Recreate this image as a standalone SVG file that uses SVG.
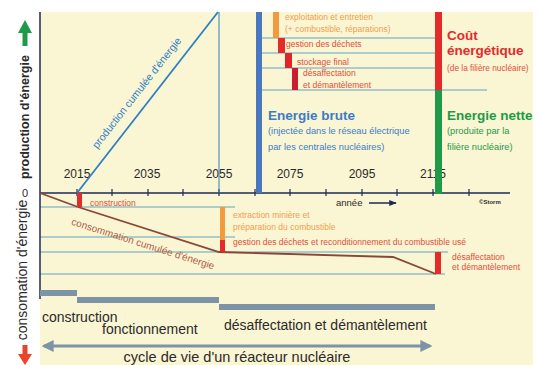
<svg xmlns="http://www.w3.org/2000/svg" width="541" height="365" viewBox="0 0 541 365">
<style>
text{font-family:"Liberation Sans",Arial,sans-serif}
.yr{font-size:12px;fill:#2b2b2b;text-anchor:middle}
.grid{stroke:#62A4C0;stroke-width:1;fill:none}
.tick{stroke:#1d2a55;stroke-width:1.2}
.orng{font-size:8.5px;fill:#F0A050}
.redt{font-size:8.5px;fill:#E0503A}
.lbl{font-size:14px;fill:#2b2b2b}
.bar{fill:#7D93A6}
</style>
<defs>
<marker id="ah" viewBox="0 0 10 10" refX="8" refY="5" markerWidth="4" markerHeight="4" orient="auto-start-reverse">
<path d="M0,0 L10,5 L0,10 z" fill="#7D93A6"/>
</marker>
<marker id="ah2" viewBox="0 0 10 10" refX="9" refY="5" markerWidth="6" markerHeight="5" orient="auto">
<path d="M0,1 L10,5 L0,9 z" fill="#1d2a55"/>
</marker>
</defs>
<rect x="0" y="0" width="541" height="365" fill="#ffffff"/>
<rect x="40" y="12" width="493" height="353" fill="#FAF5D3"/>

<g id="grid-lines">
<line class="grid" x1="262" y1="38" x2="435" y2="38"/>
<line class="grid" x1="262" y1="53" x2="435" y2="53"/>
<line class="grid" x1="262" y1="68" x2="435" y2="68"/>
<line class="grid" x1="262" y1="90" x2="487" y2="90"/>
<line class="grid" x1="40" y1="207" x2="235" y2="207"/>
<line class="grid" x1="40" y1="237" x2="235" y2="237"/>
<line class="grid" x1="40" y1="252" x2="448" y2="252"/>
<line class="grid" x1="40" y1="274" x2="445" y2="274"/>
</g>

<g id="axes">
<line x1="40" y1="12" x2="40" y2="299" stroke="#1d2a55" stroke-width="1.5"/>
<line x1="40" y1="193" x2="510" y2="193" stroke="#1d2a55" stroke-width="1.5"/>
<g class="tick">
<line x1="77" y1="189" x2="77" y2="196"/>
<line x1="112" y1="189" x2="112" y2="196"/>
<line x1="148" y1="189" x2="148" y2="196"/>
<line x1="183" y1="189" x2="183" y2="196"/>
<line x1="219" y1="189" x2="219" y2="196"/>
<line x1="255" y1="189" x2="255" y2="196"/>
<line x1="290" y1="189" x2="290" y2="196"/>
<line x1="326" y1="189" x2="326" y2="196"/>
<line x1="362" y1="189" x2="362" y2="196"/>
<line x1="397" y1="189" x2="397" y2="196"/>
<line x1="433" y1="189" x2="433" y2="196"/>
<line x1="469" y1="189" x2="469" y2="196"/>
</g>
<text class="yr" x="77" y="178">2015</text>
<text class="yr" x="147" y="178">2035</text>
<text class="yr" x="219" y="178">2055</text>
<text class="yr" x="290" y="178">2075</text>
<text class="yr" x="362" y="178">2095</text>
<text class="yr" x="433" y="178">2115</text>
<text x="25" y="197" font-size="11" fill="#2b2b2b" text-anchor="middle">0</text>
<text x="336" y="206" font-size="9.5" fill="#2b2b2b">année</text>
<line x1="369" y1="203" x2="396" y2="203" stroke="#1d2a55" stroke-width="1.5" marker-end="url(#ah2)"/>
<text x="479" y="204" font-size="6" font-weight="bold" fill="#2b2b2b">©Storm</text>
</g>

<g id="production">
<line x1="77" y1="193" x2="218" y2="12" stroke="#2E7FC4" stroke-width="1.8"/>
<line x1="219" y1="12" x2="219" y2="193" stroke="#2E7FC4" stroke-width="1"/>
<text transform="translate(139.5,95) rotate(-52)" font-size="10.5" fill="#2E7FC4" text-anchor="middle">production cumulée d'énergie</text>
</g>

<g id="energie-brute">
<rect x="256" y="12" width="6" height="181" fill="#4A78BE"/>
<text x="268" y="120" font-size="13.5" font-weight="bold" fill="#3E7CC4">Energie brute</text>
<text x="268" y="134" font-size="9.3" fill="#3E7CC4">(injectée dans le réseau électrique</text>
<text x="268" y="150" font-size="9.3" fill="#3E7CC4">par les centrales nucléaires)</text>
</g>

<g id="couts-haut">
<rect x="273" y="12" width="6" height="26" fill="#F29A3C"/>
<rect x="278" y="38" width="7" height="15" fill="#E52A2A"/>
<rect x="285" y="53" width="7" height="15" fill="#E02428"/>
<rect x="292" y="68" width="6" height="22" fill="#C81E30"/>
<text class="orng" x="285" y="20">exploitation et entretien</text>
<text class="orng" x="285" y="32">(+ combustible, réparations)</text>
<text class="redt" x="286" y="47">gestion des déchets</text>
<text class="redt" x="297" y="65">stockage final</text>
<text class="redt" x="303" y="76">désaffectation</text>
<text class="redt" x="303" y="88">et démantèlement</text>
</g>

<g id="cout-energetique">
<rect x="435" y="12" width="7" height="78" fill="#E52A2A"/>
<text x="447" y="40" font-size="13.5" font-weight="bold" fill="#E52A2A">Coût</text>
<text x="447" y="55" font-size="13.5" font-weight="bold" fill="#E52A2A">énergétique</text>
<text x="447" y="71" font-size="8.3" fill="#E0503A">(de la filière nucléaire)</text>
</g>

<g id="energie-nette">
<rect x="435" y="90" width="7" height="104" fill="#1F9A48"/>
<text x="447" y="120" font-size="13.5" font-weight="bold" fill="#1F9A48">Energie nette</text>
<text x="447" y="134" font-size="9.3" fill="#1F9A48">(produite par la</text>
<text x="447" y="150" font-size="9.3" fill="#1F9A48">filière nucléaire)</text>
</g>

<g id="consommation">
<polyline points="40,193 78,207 219,252 393,257 436,274" fill="none" stroke="#8A4636" stroke-width="1.8"/>
<text transform="translate(142,247) rotate(17.5)" font-size="10" fill="#B06048" text-anchor="middle">consommation cumulée d'énergie</text>
<rect x="77" y="193" width="5" height="14" fill="#E52A2A"/>
<text class="redt" x="90" y="206">construction</text>
<rect x="220" y="207" width="5" height="33" fill="#F29A3C"/>
<rect x="220" y="240" width="5" height="12" fill="#E52A2A"/>
<text class="orng" x="233" y="218">extraction minière et</text>
<text class="orng" x="233" y="230">préparation du combustible</text>
<text class="redt" x="233" y="245">gestion des déchets et reconditionnement du combustible usé</text>
<rect x="435" y="252" width="6" height="22" fill="#E52A2A"/>
<text class="redt" x="452" y="260" font-size="8">désaffectation</text>
<text class="redt" x="452" y="270" font-size="8">et démantèlement</text>
</g>

<g id="axis-labels">
<path d="M25,20 L32,33 L27.5,33 L27.5,46 L22.5,46 L22.5,33 L18,33 Z" fill="#1F9A48"/>
<text transform="translate(29,117) rotate(-90)" font-size="12.5" font-weight="bold" fill="#2b2b2b" text-anchor="middle">production d'énergie</text>
<text transform="translate(27,270) rotate(-90)" font-size="14" fill="#2b2b2b" text-anchor="middle">consomation d'énergie</text>
<path d="M25,365 L32,354 L27.5,354 L27.5,345 L22.5,345 L22.5,354 L18,354 Z" fill="#E8452A"/>
</g>

<g id="cycle-de-vie">
<rect class="bar" x="40" y="290" width="37" height="6"/>
<rect class="bar" x="77" y="297" width="142" height="6"/>
<rect class="bar" x="219" y="304" width="216" height="6"/>
<text class="lbl" x="42" y="322">construction</text>
<text class="lbl" x="102" y="334">fonctionnement</text>
<text class="lbl" x="224" y="330">désaffectation et démantèlement</text>
<line x1="44" y1="346" x2="430" y2="346" stroke="#7D93A6" stroke-width="3" marker-start="url(#ah)" marker-end="url(#ah)"/>
<text x="237" y="362" font-size="14.5" fill="#2b2b2b" text-anchor="middle">cycle de vie d'un réacteur nucléaire</text>
</g>
</svg>
